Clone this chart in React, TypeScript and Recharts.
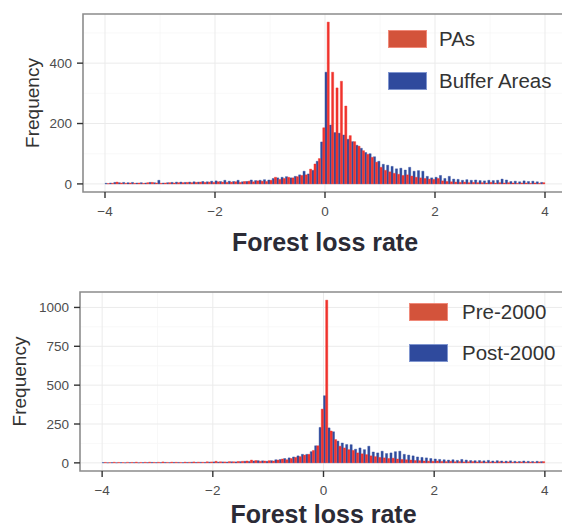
import { BarChart, Bar, XAxis, YAxis, CartesianGrid, ReferenceArea, Legend } from 'recharts'

// histogram bin mid points (bin width 0.08, edges -4 .. 4)
const binMids = [
  -3.96, -3.88, -3.8, -3.72, -3.64, -3.56, -3.48, -3.4, -3.32, -3.24,
  -3.16, -3.08, -3.0, -2.92, -2.84, -2.76, -2.68, -2.6, -2.52, -2.44,
  -2.36, -2.28, -2.2, -2.12, -2.04, -1.96, -1.88, -1.8, -1.72, -1.64,
  -1.56, -1.48, -1.4, -1.32, -1.24, -1.16, -1.08, -1.0, -0.92, -0.84,
  -0.76, -0.68, -0.6, -0.52, -0.44, -0.36, -0.28, -0.2, -0.12, -0.04,
  0.04, 0.12, 0.2, 0.28, 0.36, 0.44, 0.52, 0.6, 0.68, 0.76,
  0.84, 0.92, 1.0, 1.08, 1.16, 1.24, 1.32, 1.4, 1.48, 1.56,
  1.64, 1.72, 1.8, 1.88, 1.96, 2.04, 2.12, 2.2, 2.28, 2.36,
  2.44, 2.52, 2.6, 2.68, 2.76, 2.84, 2.92, 3.0, 3.08, 3.16,
  3.24, 3.32, 3.4, 3.48, 3.56, 3.64, 3.72, 3.8, 3.88, 3.96,
]

// top panel
const paCounts = [
  1, 2, 6, 3, 2, 3, 2, 3, 2, 4,
  5, 3, 2, 3, 4, 3, 4, 4, 5, 4,
  5, 6, 5, 6, 5, 7, 6, 5, 6, 7,
  5, 8, 9, 7, 10, 9, 8, 12, 22, 15,
  18, 22, 20, 24, 28, 30, 49, 66, 84, 186,
  536, 370, 318, 340, 258, 160, 140, 125, 110, 98,
  88, 72, 55, 45, 40, 35, 32, 28, 30, 26,
  22, 20, 18, 16, 15, 18, 10, 8, 7, 6,
  5, 6, 4, 5, 4, 4, 3, 5, 3, 4,
  3, 4, 3, 2, 3, 3, 2, 3, 2, 4,
]
const bufferCounts = [
  2, 3, 5, 4, 5, 4, 5, 3, 4, 3,
  5, 4, 12, 3, 4, 5, 6, 6, 5, 6,
  7, 6, 8, 7, 9, 10, 8, 12, 9, 8,
  12, 7, 8, 13, 11, 12, 14, 13, 18, 20,
  22, 24, 20, 25, 30, 42, 33, 45, 75, 139,
  370, 195, 170, 168, 162, 148, 140, 128, 118, 104,
  100, 90, 75, 65, 62, 58, 50, 52, 46, 55,
  42, 44, 42, 25, 20, 22, 28, 18, 25, 16,
  15, 12, 14, 12, 13, 11, 10, 12, 11, 12,
  16, 13, 8, 9, 7, 10, 8, 9, 7, 5,
]

// bottom panel
const pre2000Counts = [
  3, 2, 4, 3, 2, 4, 3, 5, 3, 4,
  5, 3, 4, 6, 3, 5, 4, 3, 5, 4,
  6, 5, 4, 7, 6, 10, 7, 6, 8, 7,
  9, 10, 12, 18, 15, 10, 12, 14, 12, 18,
  25, 20, 28, 35, 40, 50, 55, 80, 110, 346,
  1047, 205, 150, 107, 96, 85, 80, 64, 58, 53,
  45, 40, 35, 32, 28, 30, 25, 22, 20, 18,
  15, 14, 12, 11, 10, 12, 9, 8, 10, 7,
  8, 6, 7, 8, 6, 7, 5, 6, 5, 7,
  5, 6, 4, 5, 6, 4, 5, 4, 6, 8,
]
const post2000Counts = [
  2, 1, 2, 1, 2, 1, 2, 2, 1, 2,
  2, 3, 2, 2, 3, 2, 3, 3, 2, 3,
  4, 3, 4, 3, 5, 6, 5, 6, 5, 7,
  6, 8, 10, 9, 12, 14, 13, 10, 14, 20,
  22, 28, 32, 38, 45, 55, 55, 72, 110, 228,
  432, 225, 200, 140, 128, 118, 117, 88, 96, 85,
  107, 70, 64, 75, 60, 64, 72, 75, 55, 50,
  45, 38, 35, 32, 28, 25, 22, 20, 18, 20,
  16, 22, 18, 15, 14, 15, 13, 16, 12, 14,
  12, 11, 13, 10, 9, 12, 10, 9, 10, 8,
]

const xTicks = [-4, -2, 0, 2, 4]
const xMinor = [-3, -1, 1, 3]
const topYTicks = [0, 200, 400]
const topYMinor = [100, 300, 500]
const bottomYTicks = [0, 250, 500, 750, 1000]
const bottomYMinor = [125, 375, 625, 875]

const topData = binMids.map((mid, i) => ({ mid, pa: paCounts[i], buffer: bufferCounts[i] }))
const bottomData = binMids.map((mid, i) => ({ mid, pre: pre2000Counts[i], post: post2000Counts[i] }))

const BAR_RED = '#f0322c'
const BAR_BLUE = '#2f4c9e'
const KEY_RED = '#d3533b'
const KEY_BLUE = '#2f4a9d'
const FONT = '"Liberation Sans", Arial, sans-serif'

const fmtX = (v: number) => String(v).replace('-', '\u2212')

type Item = { label: string, color: string, border: string }

const LegendBox = ({ items, gap, textGap }: { items: Item[], gap: number, textGap: number }) => (
  <div style={{ fontFamily: FONT }}>
    {items.map((it, i) => (
      <div key={it.label} style={{ display: 'flex', alignItems: 'center', height: 18, marginTop: i ? gap - 18 : 0 }}>
        <div style={{ width: 39, height: 18, background: it.color, boxSizing: 'border-box', border: `1px solid ${it.border}` }} />
        <span style={{ marginLeft: textGap, fontSize: 20.5, color: '#333', whiteSpace: 'nowrap' }}>{it.label}</span>
      </div>
    ))}
  </div>
)

type PanelProps = {
  data: object[]
  blueKey: string
  redKey: string
  blueName: string
  redName: string
  yDomain: [number, number]
  yTicks: number[]
  yMinor: number[]
  height: number
  marginTop: number
  axisWidth: number
  xAxisHeight: number
  labelOffset: number
  freqX: number
  legendLeft: number
  legendTop: number
  legendGap: number
  legendTextGap: number
}

const Panel = (p: PanelProps) => {
  const chartWidth = 600
  return (
    <BarChart
      width={chartWidth}
      height={p.height}
      data={p.data}
      margin={{ top: p.marginTop, right: 33, left: 0, bottom: 0 }}
      barGap={0}
      barCategoryGap={0}
    >
      <CartesianGrid stroke='#f6f6f6' strokeWidth={0.8} verticalValues={xMinor} horizontalValues={p.yMinor} />
      <CartesianGrid stroke='#ebebeb' strokeWidth={1} verticalValues={xTicks} horizontalValues={p.yTicks} />
      <XAxis
        type='number'
        dataKey='mid'
        domain={[-4.4, 4.4]}
        ticks={xTicks}
        allowDataOverflow
        axisLine={false}
        tickLine={{ stroke: '#333', strokeWidth: 1.4 }}
        tickSize={6}
        tickMargin={8}
        tick={{ fill: '#4d4d4d', fontSize: 13.5, fontFamily: FONT }}
        tickFormatter={fmtX}
        height={p.xAxisHeight}
        label={{
          value: 'Forest loss rate',
          position: 'insideTop',
          offset: p.labelOffset,
          style: { fontSize: 25, fontWeight: 700, fill: '#2b2b36', fontFamily: FONT },
        }}
      />
      <YAxis
        type='number'
        domain={p.yDomain}
        ticks={p.yTicks}
        allowDataOverflow
        axisLine={false}
        tickLine={{ stroke: '#333', strokeWidth: 1.4 }}
        tickSize={6}
        tickMargin={5}
        tick={{ fill: '#4d4d4d', fontSize: 13.5, fontFamily: FONT }}
        width={p.axisWidth}
        label={{
          content: (props: any) => {
            const vb = props.viewBox || { y: 0, height: 0 }
            const cy = vb.y + vb.height / 2
            return (
              <text
                x={p.freqX}
                y={cy}
                transform={`rotate(-90 ${p.freqX} ${cy})`}
                textAnchor='middle'
                dominantBaseline='central'
                style={{ fontSize: 19, fill: '#333', fontFamily: FONT }}
              >
                Frequency
              </text>
            )
          },
        }}
      />
      {/* barSize kept just under half the bin width so recharts does not shrink it */}
      <Bar dataKey={p.blueKey} name={p.blueName} fill={BAR_BLUE} stroke={BAR_BLUE} strokeWidth={0.4} barSize={2.15} isAnimationActive={false} />
      <Bar dataKey={p.redKey} name={p.redName} fill={BAR_RED} stroke={BAR_RED} strokeWidth={0.4} barSize={2.15} isAnimationActive={false} />
      <ReferenceArea
        x1={-4.4}
        x2={4.4}
        y1={p.yDomain[0]}
        y2={p.yDomain[1]}
        fill='none'
        stroke='#8c8c8c'
        strokeWidth={1.6}
        ifOverflow='visible'
      />
      <Legend
        layout='horizontal'
        verticalAlign='middle'
        align='center'
        wrapperStyle={{ left: p.legendLeft, top: p.legendTop, width: 'auto' }}
        content={() => (
          <LegendBox
            gap={p.legendGap}
            textGap={p.legendTextGap}
            items={[
              { label: p.redName, color: KEY_RED, border: '#f08a7a' },
              { label: p.blueName, color: KEY_BLUE, border: '#8096d0' },
            ]}
          />
        )}
      />
    </BarChart>
  )
}

export default function App() {
  return (
    <div style={{ position: 'absolute', left: 0, top: 0, width: 562, height: 528, overflow: 'hidden', background: '#fff' }}>
      <div style={{ position: 'absolute', left: 0, top: 0 }}>
        <Panel
          data={topData}
          blueKey='buffer'
          redKey='pa'
          blueName='Buffer Areas'
          redName='PAs'
          yDomain={[-26.8, 562.8]}
          yTicks={topYTicks}
          yMinor={topYMinor}
          height={268}
          marginTop={14}
          axisWidth={83}
          xAxisHeight={76}
          labelOffset={41}
          freqX={32}
          legendLeft={388}
          legendTop={30}
          legendGap={42}
          legendTextGap={12}
        />
      </div>
      <div style={{ position: 'absolute', left: 0, top: 270 }}>
        <Panel
          data={bottomData}
          blueKey='post'
          redKey='pre'
          blueName='Post-2000'
          redName='Pre-2000'
          yDomain={[-52.35, 1099.35]}
          yTicks={bottomYTicks}
          yMinor={bottomYMinor}
          height={258}
          marginTop={22}
          axisWidth={80}
          xAxisHeight={57}
          labelOffset={34}
          freqX={19}
          legendLeft={409}
          legendTop={33}
          legendGap={41}
          legendTextGap={14}
        />
      </div>
    </div>
  )
}
